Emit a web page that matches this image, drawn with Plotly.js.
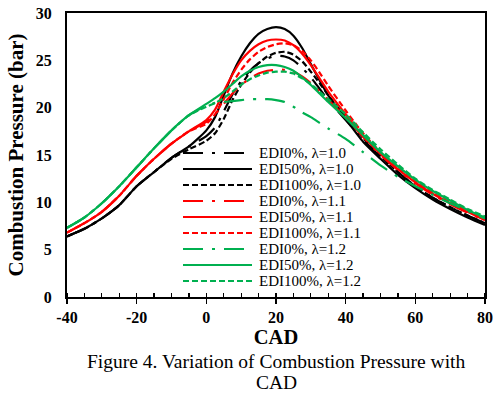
<!DOCTYPE html>
<html>
<head>
<meta charset="utf-8">
<script src="https://cdn.plot.ly/plotly-3.0.1.min.js"></script>
<style>html,body{margin:0;padding:0;background:#fff;}#chart{width:493px;height:398px;}</style>
</head>
<body>
<div id="chart"></div>
<script>
const cad = [-40,-35,-30,-25,-20,-15,-10,-5,0,2.5,5,7.5,10,12.5,15,17.5,20,22.5,25,27.5,30,32.5,35,40,45,50,55,60,65,70,75,80];

const edi0_l10   = [6.4,7.2,8.3,9.7,11.7,13.2,14.7,15.9,17.0,17.9,19.6,21.4,22.8,23.9,24.7,25.2,25.5,25.4,25.0,24.2,23.2,22.0,20.8,18.7,16.6,14.8,13.2,11.7,10.5,9.5,8.6,7.8];
const edi50_l10  = [6.4,7.2,8.3,9.7,11.7,13.2,14.7,15.9,17.6,19.0,21.3,23.6,25.4,26.8,27.8,28.3,28.5,28.3,27.6,26.3,24.6,22.9,21.3,18.8,16.4,14.6,12.9,11.5,10.3,9.3,8.4,7.6];
const edi100_l10 = [6.4,7.2,8.3,9.7,11.7,13.2,14.6,15.6,16.5,17.3,18.8,20.8,22.4,23.7,24.7,25.4,25.8,25.9,25.6,24.9,23.8,22.6,21.3,19.0,16.8,14.9,13.2,11.7,10.5,9.5,8.6,7.8];
const edi0_l11   = [6.8,7.8,9.0,10.7,12.8,14.6,16.2,17.5,18.5,19.3,20.4,21.5,22.4,23.1,23.6,23.9,24.0,24.0,23.8,23.3,22.6,21.7,20.8,19.0,16.9,15.0,13.4,12.0,10.8,9.8,8.9,8.1];
const edi50_l11  = [6.8,7.8,9.0,10.7,12.8,14.6,16.2,17.5,18.7,19.8,21.7,23.5,25.0,26.0,26.7,27.1,27.2,27.1,26.6,25.7,24.5,23.1,21.7,19.3,17.0,15.1,13.5,12.1,10.9,9.9,9.0,8.1];
const edi100_l11 = [6.8,7.8,9.0,10.7,12.8,14.6,16.2,17.5,18.3,19.3,20.9,22.6,24.0,25.1,25.9,26.4,26.7,26.8,26.6,26.0,25.0,23.7,22.3,19.7,17.3,15.3,13.6,12.2,11.0,10.0,9.1,8.2];
const edi0_l12   = [7.3,8.4,9.9,11.7,13.7,15.7,17.6,19.2,20.2,20.5,20.6,20.7,20.8,20.9,20.9,20.9,20.8,20.6,20.1,19.5,19.0,18.4,17.8,16.7,15.3,13.9,12.7,11.7,10.8,9.9,9.1,8.3];
const edi50_l12  = [7.3,8.4,9.9,11.7,13.7,15.7,17.6,19.2,20.4,21.0,21.7,22.5,23.3,23.9,24.3,24.5,24.5,24.3,23.9,23.2,22.4,21.5,20.6,18.9,17.1,15.3,13.8,12.4,11.2,10.2,9.2,8.4];
const edi100_l12 = [7.3,8.4,9.9,11.7,13.7,15.7,17.6,19.2,20.1,20.5,21.0,21.7,22.4,23.0,23.4,23.7,23.8,23.8,23.6,23.1,22.5,21.7,20.9,19.3,17.4,15.6,14.0,12.5,11.3,10.3,9.3,8.5];

const seriesNames = ["EDI0%, λ=1.0","EDI50%, λ=1.0","EDI100%, λ=1.0",
                     "EDI0%, λ=1.1","EDI50%, λ=1.1","EDI100%, λ=1.1",
                     "EDI0%, λ=1.2","EDI50%, λ=1.2","EDI100%, λ=1.2"];
const seriesValues = [edi0_l10,edi50_l10,edi100_l10,edi0_l11,edi50_l11,edi100_l11,edi0_l12,edi50_l12,edi100_l12];

const xTickVals = [-40,-20,0,20,40,60,80];
const xTickText = ["-40","-20","0","20","40","60","80"];

const colors = ["#000000","#000000","#000000","#ff0000","#ff0000","#ff0000","#00b050","#00b050","#00b050"];
const dashes = ["20px,9px,3px,9px","solid","6px,3px","20px,9px,3px,9px","solid","6px,3px","20px,9px,3px,9px","solid","6px,3px"];

const W = 493, H = 398;
const M = {l:67, r:8, t:13, b:101};
const pw = W - M.l - M.r, ph = H - M.t - M.b;
const px2x = p => (p - M.l) / pw;
const py2y = p => (H - M.b - p) / ph;
const SERIF = 'Liberation Serif, Times New Roman, serif';

const traces = seriesValues.map((v,i) => ({
  x: cad, y: v, name: seriesNames[i], type: 'scatter', mode: 'lines',
  line: {color: colors[i], width: 2.2, dash: dashes[i], shape: 'spline', smoothing: 0.6},
  showlegend: false
}));

// manual legend (long sample lines like the original)
const shapes = [], annotations = [];
const legTop = 153, legStep = 16;
seriesNames.forEach((n,i) => {
  const yy = py2y(legTop + i*legStep);
  shapes.push({type:'line', xref:'paper', yref:'paper', x0:px2x(183), x1:px2x(252), y0:yy, y1:yy,
    line:{color:colors[i], width:2.2, dash:dashes[i]}});
  annotations.push({xref:'paper', yref:'paper', x:px2x(258), y:yy, xanchor:'left', yanchor:'middle',
    text:n, showarrow:false, borderpad:0, font:{family:SERIF, size:15, color:'#000'}});
});

annotations.push({xref:'paper', yref:'paper', x:px2x(276), y:py2y(361), xanchor:'center', yanchor:'middle',
  text:'Figure 4. Variation of Combustion Pressure with', showarrow:false, borderpad:0,
  font:{family:SERIF, size:19.5, color:'#000'}});
annotations.push({xref:'paper', yref:'paper', x:px2x(276), y:py2y(382), xanchor:'center', yanchor:'middle',
  text:'CAD', showarrow:false, borderpad:0,
  font:{family:SERIF, size:19.5, color:'#000'}});

const tickFont = {family:SERIF, size:16, color:'#000', weight:'bold'};
const layout = {
  width: W, height: H, margin: M,
  paper_bgcolor:'#fff', plot_bgcolor:'#fff',
  showlegend:false,
  xaxis: {range:[-40,80], tickmode:'array', tickvals:xTickVals, ticktext:xTickText,
    showgrid:false, zeroline:false,
    showline:true, linecolor:'#000', linewidth:2, mirror:true,
    ticks:'outside', ticklen:5, tickwidth:1.5, tickcolor:'#000',
    minor:{dtick:5, tick0:-40, ticks:'inside', ticklen:4, tickwidth:1.2, tickcolor:'#000'},
    tickfont: tickFont,
    title:{text:'<b>CAD</b>', font:{family:SERIF, size:20.5, color:'#000'}, standoff:3}},
  yaxis: {range:[0,30], dtick:5, showgrid:false, zeroline:false,
    showline:true, linecolor:'#000', linewidth:2, mirror:true,
    ticks:'', ticklabelstandoff:10,
    tickfont: tickFont,
    title:{text:'<b>Combustion Pressure (bar)</b>', font:{family:SERIF, size:21, color:'#000'}, standoff:6}},
  shapes: shapes,
  annotations: annotations
};

Plotly.newPlot('chart', traces, layout, {staticPlot:true, displayModeBar:false});
</script>
</body>
</html>
